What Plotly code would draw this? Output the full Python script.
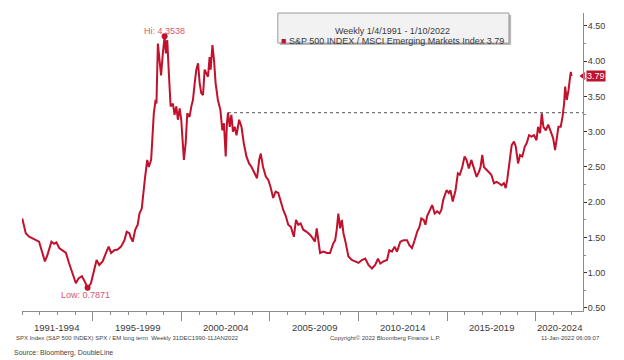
import plotly.graph_objects as go
import pandas as pd

# ---- data ----
year_frac = [
    1991.01, 1991.21, 1991.40, 1991.58, 1991.78, 1991.96,
    1992.15, 1992.29, 1992.43, 1992.66, 1992.81, 1992.94,
    1993.10, 1993.28, 1993.48, 1993.66, 1993.85,
    1994.04, 1994.19, 1994.38, 1994.55, 1994.70, 1994.89,
    1995.08, 1995.21, 1995.36, 1995.55, 1995.74, 1995.89,
    1996.03, 1996.21, 1996.40, 1996.59, 1996.78, 1996.91,
    1997.06, 1997.12, 1997.25, 1997.39, 1997.53, 1997.63, 1997.76, 1997.87, 1997.95,
    1998.07, 1998.16, 1998.29, 1998.44, 1998.54, 1998.59, 1998.67, 1998.76, 1998.85, 1998.95,
    1999.05, 1999.12, 1999.20, 1999.29, 1999.39, 1999.52, 1999.61, 1999.71, 1999.80, 1999.90, 1999.99,
    2000.14, 2000.24, 2000.33, 2000.46, 2000.56, 2000.65, 2000.75, 2000.84, 2000.94,
    2001.03, 2001.12, 2001.22, 2001.31, 2001.41, 2001.50, 2001.59, 2001.65, 2001.75, 2001.84, 2001.93,
    2002.06, 2002.20, 2002.31, 2002.40, 2002.50, 2002.57, 2002.63, 2002.73, 2002.82, 2002.91,
    2003.01, 2003.11, 2003.26, 2003.39, 2003.52, 2003.67, 2003.82, 2003.96,
    2004.14, 2004.27, 2004.39, 2004.48, 2004.61, 2004.77, 2004.90,
    2005.03, 2005.18, 2005.32, 2005.47, 2005.60, 2005.75, 2005.90,
    2006.03, 2006.18, 2006.35, 2006.47, 2006.60, 2006.73, 2006.88,
    2007.07, 2007.26, 2007.41, 2007.54, 2007.64, 2007.73, 2007.83,
    2008.02, 2008.21, 2008.39, 2008.58, 2008.68, 2008.77, 2008.86, 2008.96,
    2009.06, 2009.15, 2009.28, 2009.43, 2009.62, 2009.81,
    2010.00, 2010.19, 2010.38, 2010.56, 2010.76, 2010.94,
    2011.10, 2011.23, 2011.41, 2011.61, 2011.74, 2011.89,
    2012.04, 2012.17, 2012.36, 2012.55, 2012.74, 2012.87,
    2013.02, 2013.17, 2013.31, 2013.44, 2013.55, 2013.68, 2013.78, 2013.87,
    2014.00, 2014.16, 2014.30, 2014.44, 2014.57, 2014.68, 2014.78, 2014.91, 2014.97,
    2015.10, 2015.19, 2015.32, 2015.48, 2015.61, 2015.72, 2015.86, 2015.99,
    2016.10, 2016.23, 2016.37, 2016.51, 2016.67, 2016.80, 2016.89, 2016.99,
    2017.08, 2017.23, 2017.36, 2017.50, 2017.65, 2017.80, 2017.93,
    2018.07, 2018.21, 2018.31, 2018.40, 2018.53, 2018.65, 2018.78, 2018.88,
    2019.01, 2019.12, 2019.25, 2019.39, 2019.50, 2019.63, 2019.77, 2019.91,
    2020.05, 2020.14, 2020.25, 2020.35, 2020.44, 2020.58, 2020.71, 2020.86, 2020.99,
    2021.10, 2021.20, 2021.29, 2021.42, 2021.52, 2021.61, 2021.67, 2021.76, 2021.86, 2021.95,
    2021.99, 2022.03,
]
ratio = [
    1.77, 1.56, 1.51, 1.49, 1.46, 1.44,
    1.28, 1.16, 1.25, 1.44, 1.41, 1.43,
    1.35, 1.32, 1.28, 1.13, 0.99,
    0.85, 0.92, 0.95, 0.87, 0.7871, 0.85,
    1.06, 1.18, 1.11, 1.16, 1.28, 1.37,
    1.28, 1.32, 1.33, 1.37, 1.46, 1.58,
    1.56, 1.51, 1.44, 1.61, 1.68, 1.84, 1.91, 2.22, 2.36,
    2.60, 2.50, 2.60, 3.26, 3.45, 3.40, 4.25, 3.97, 3.80, 4.11,
    4.3538, 4.11, 4.30, 3.83, 3.36, 3.40, 3.24, 3.36, 3.17, 3.33, 3.17,
    2.60, 2.84, 3.26, 3.21, 3.36, 3.45, 3.69, 3.88, 3.97,
    3.69, 3.55, 3.52, 3.88, 3.83, 3.78, 4.06, 3.88, 4.23, 4.02, 3.69,
    3.45, 3.31, 3.02, 3.12, 2.65, 3.12, 3.27, 3.07, 3.24, 3.00,
    3.07, 2.95, 3.17, 3.07, 2.84, 2.65, 2.55, 2.50,
    2.41, 2.34, 2.60, 2.69, 2.50, 2.36, 2.32,
    2.22, 2.06, 2.15, 2.13, 2.01, 1.89, 1.80,
    1.68, 1.65, 1.51, 1.75, 1.68, 1.70, 1.61,
    1.58, 1.54, 1.49, 1.44, 1.63, 1.44, 1.28,
    1.30, 1.28, 1.28, 1.42, 1.46, 1.61, 1.84, 1.63,
    1.75, 1.56, 1.42, 1.23, 1.18, 1.16,
    1.14, 1.18, 1.20, 1.11, 1.06, 1.11,
    1.20, 1.13, 1.16, 1.18, 1.32, 1.30,
    1.37, 1.30, 1.44, 1.46, 1.46, 1.39,
    1.35, 1.46, 1.58, 1.65, 1.77, 1.75, 1.68, 1.80,
    1.87, 1.96, 1.84, 1.87, 1.84, 1.89, 2.03, 2.15, 2.17,
    2.13, 2.17, 2.01, 2.17, 2.41, 2.39, 2.50, 2.65,
    2.60, 2.48, 2.60, 2.50, 2.36, 2.43, 2.50, 2.67,
    2.50, 2.46, 2.43, 2.39, 2.27, 2.29, 2.27,
    2.24, 2.27, 2.20, 2.32, 2.60, 2.81, 2.86, 2.79,
    2.55, 2.67, 2.65, 2.79, 2.84, 2.95, 2.93, 2.95,
    2.88, 3.07, 2.98, 3.26, 3.07, 3.02, 3.10, 3.00, 2.91,
    2.74, 2.93, 3.07, 3.07, 3.21, 3.40, 3.64, 3.45, 3.59, 3.78,
    3.85, 3.79,
]
period_labels = ["1991-1994", "1995-1999", "2000-2004", "2005-2009",
                 "2010-2014", "2015-2019", "2020-2024"]
period_centers = ["1992-12-15", "1997-07-02", "2002-07-02", "2007-07-02",
                  "2012-07-02", "2017-07-02", "2021-05-10"]
hi_value = 4.3538
low_value = 0.7871
last_value = 3.79
ref_level = 3.27
ref_start = 2002.63

RED = "#C0112D"
GREY = "#8c8c8c"
TXT = "#3a3a3a"
FONT = "Liberation Sans, Arial, sans-serif"


def to_date(y):
    return pd.Timestamp("1991-01-01") + pd.to_timedelta((y - 1991) * 365.25, unit="D")


dates = [to_date(y) for y in year_frac]
hi_idx = ratio.index(hi_value)
low_idx = ratio.index(low_value)
x_range = ["1990-12-31", "2022-09-05"]

fig = go.Figure()
fig.add_trace(go.Scatter(x=dates, y=ratio, mode="lines",
                         line=dict(color=RED, width=2), showlegend=False,
                         hoverinfo="x+y"))
fig.add_trace(go.Scatter(x=[dates[hi_idx], dates[low_idx]],
                         y=[ratio[hi_idx], ratio[low_idx]], mode="markers",
                         marker=dict(color=RED, size=6), showlegend=False))
# pointer of the last-value tag, sitting on the right axis
fig.add_trace(go.Scatter(x=[x_range[1]], y=[last_value], mode="markers",
                         marker=dict(symbol="triangle-left", color=RED, size=7),
                         cliponaxis=False, showlegend=False, hoverinfo="skip"))

# reference dotted level
fig.add_shape(type="line", xref="x", yref="y", x0=to_date(ref_start), x1=x_range[1],
              y0=ref_level, y1=ref_level, line=dict(color="#555555", width=1, dash="dot"))

# legend box
fig.add_shape(type="rect", xref="paper", yref="paper", x0=0.4599, x1=0.8719,
              y0=0.8926, y1=0.9933, line=dict(width=0), fillcolor="#b8b8b8", layer="above")
fig.add_shape(type="rect", xref="paper", yref="paper", x0=0.456, x1=0.868,
              y0=0.899, y1=1.0, line=dict(color="#9a9a9a", width=1),
              fillcolor="#f2f2f2", layer="above")

ann = []
ann.append(dict(x=0.661, y=0.963, xref="paper", yref="paper",
                text="Weekly 1/4/1991 - 1/10/2022", showarrow=False,
                font=dict(size=9, color=TXT, family=FONT)))
ann.append(dict(x=0.661, y=0.9295, xref="paper", yref="paper",
                text="<span style='color:%s'>■</span> S&P 500 INDEX / MSCI Emerging Markets Index %.2f" % (RED, last_value),
                showarrow=False, font=dict(size=9, color=TXT, family=FONT)))
# hi / low labels
ann.append(dict(x=dates[hi_idx], y=ratio[hi_idx], text="Hi: %.4f" % hi_value,
                showarrow=False, yshift=5, font=dict(size=9, color="#d8566c", family=FONT)))
ann.append(dict(x=dates[low_idx], y=ratio[low_idx], text="Low: %.4f" % low_value,
                showarrow=False, yshift=-7, xshift=-2, font=dict(size=9, color="#d8566c", family=FONT)))
# last value tag
ann.append(dict(x=1, y=last_value, xref="paper", yref="y", text="%.2f" % last_value,
                showarrow=False, xanchor="left", xshift=3, bgcolor=RED, borderpad=0,
                font=dict(size=9, color="white", family=FONT)))
# period labels
for lab, c in zip(period_labels, period_centers):
    ann.append(dict(x=c, y=-0.054, xref="x", yref="paper", text=lab, showarrow=False,
                    yanchor="middle", font=dict(size=9.5, color=TXT, family=FONT)))
# footer
ann.append(dict(x=-0.014, y=-0.091, xref="paper", yref="paper", xanchor="left", yanchor="middle",
                text="SPX Index (S&P 500 INDEX) SPX / EM long term  Weekly 31DEC1990-11JAN2022",
                showarrow=False, font=dict(size=6, color="#444444", family=FONT)))
ann.append(dict(x=0.75, y=-0.091, xref="paper", yref="paper", xanchor="right", yanchor="middle",
                text="Copyright© 2022 Bloomberg Finance L.P.",
                showarrow=False, font=dict(size=6, color="#444444", family=FONT)))
ann.append(dict(x=1.034, y=-0.091, xref="paper", yref="paper", xanchor="right", yanchor="middle",
                text="11-Jan-2022 06:09:07",
                showarrow=False, font=dict(size=6, color="#444444", family=FONT)))
ann.append(dict(x=-0.018, y=-0.141, xref="paper", yref="paper", xanchor="left", yanchor="middle",
                text="Source: Bloomberg, DoubleLine",
                showarrow=False, font=dict(size=7, color="#444444", family=FONT)))

fig.update_layout(
    width=624, height=360,
    margin=dict(l=22, r=41, t=13, b=49),
    plot_bgcolor="white", paper_bgcolor="white",
    font=dict(family=FONT, size=9, color=TXT),
    annotations=ann,
    showlegend=False,
    xaxis=dict(type="date", range=x_range, showgrid=False, zeroline=False,
               showline=True, linecolor=GREY, linewidth=1,
               ticks="outside", tickmode="linear", tick0="1995-01-01", dtick="M60",
               ticklen=9, tickcolor=GREY, showticklabels=False,
               minor=dict(ticks="outside", ticklen=3, tickcolor=GREY,
                          tick0="1991-01-01", dtick="M12")),
    yaxis=dict(side="right", range=[0.457, 4.684], showgrid=False, zeroline=False,
               showline=True, linecolor=GREY, linewidth=1,
               ticks="outside", tickmode="linear", tick0=0.5, dtick=0.5,
               tickformat=".2f", ticklen=3, tickcolor="#333333",
               tickfont=dict(size=9, color=TXT, family=FONT),
               ticklabelstandoff=-1,
               minor=dict(ticks="outside", ticklen=2, tickcolor=GREY,
                          tick0=0.25, dtick=0.25)),
)

fig.write_html("out.html", config={"displayModeBar": False},
               post_script="document.body.style.margin='0';document.body.style.padding='0';")
